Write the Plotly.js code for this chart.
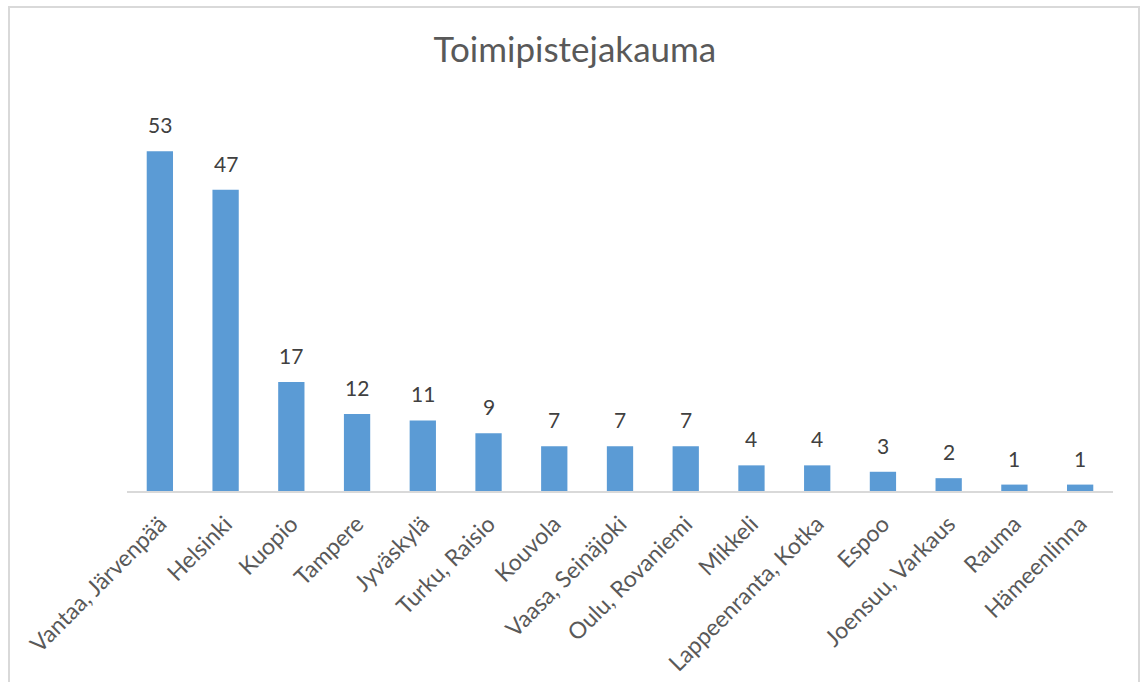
<!DOCTYPE html>
<html>
<head>
<meta charset="utf-8">
<script src="https://cdn.plot.ly/plotly-3.0.1.min.js"></script>
<style>
html,body{margin:0;padding:0;background:#fff;}
#chart{width:1143px;height:682px;position:relative;}
#frame{position:absolute;left:8px;top:6px;width:1132px;height:700px;border:2px solid #d9d9d9;pointer-events:none;box-sizing:border-box;}
</style>
</head>
<body>
<div style="position:relative;width:1143px;height:682px;overflow:hidden;">
<div id="chart"></div>
<div id="frame"></div>
</div>
<script>
const categories = ["Vantaa, Järvenpää","Helsinki","Kuopio","Tampere","Jyväskylä","Turku, Raisio","Kouvola","Vaasa, Seinäjoki","Oulu, Rovaniemi","Mikkeli","Lappeenranta, Kotka","Espoo","Joensuu, Varkaus","Rauma","Hämeenlinna"];
const values = [53,47,17,12,11,9,7,7,7,4,4,3,2,1,1];
const chartTitle = "Toimipistejakauma";

const FONT = "Lato, 'Open Sans', sans-serif";

const annotations = categories.map((c,i)=>({
  x: c, y: values[i], xref:'x', yref:'y',
  text: String(values[i]), showarrow:false,
  yanchor:'bottom', yshift: 12,
  font:{family:FONT,size:21,color:'#404040'}
}));

Plotly.newPlot('chart', [{
  type:'bar', x: categories, y: values,
  marker:{color:'#5b9bd5'},
  hoverinfo:'x+y'
}], {
  width:1143, height:682,
  margin:{l:127, r:30, t:100, b:191},
  paper_bgcolor:'#fff', plot_bgcolor:'#fff',
  bargap:0.6,
  title:{text:chartTitle, x:0.503, xref:'container', xanchor:'center', y:1-50/682, yref:'container', yanchor:'middle',
    font:{family:FONT,size:35,color:'#595959'}},
  xaxis:{type:'category', tickangle:-45, showline:true, linecolor:'#d9d9d9', linewidth:1.5,
    ticks:'', ticklabelstandoff:9, showgrid:false, tickfont:{family:FONT,size:23,color:'#595959'}, automargin:false},
  yaxis:{range:[0,61], visible:false, showgrid:false, zeroline:false, fixedrange:true},
  annotations: annotations,
  showlegend:false
}, {displayModeBar:false, staticPlot:true});
</script>
</body>
</html>
